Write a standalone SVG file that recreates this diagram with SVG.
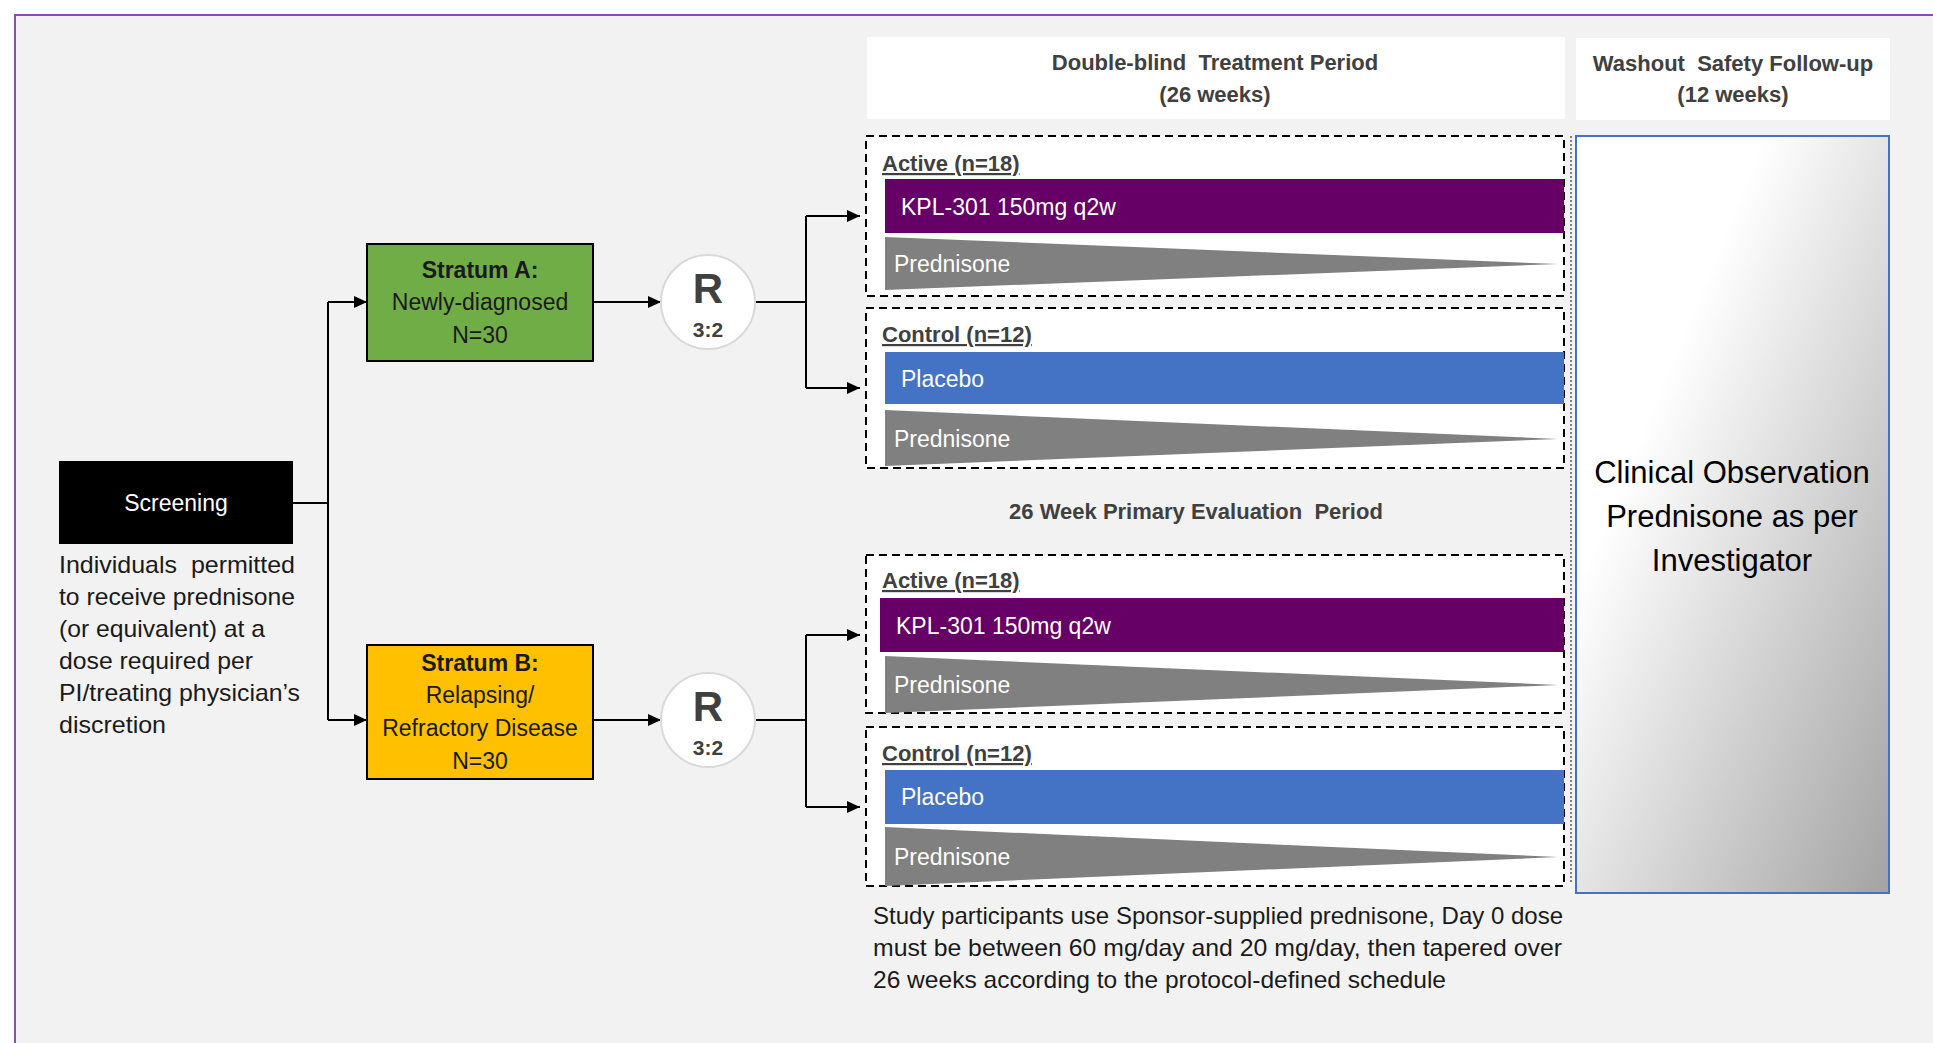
<svg xmlns="http://www.w3.org/2000/svg" width="1933" height="1043" viewBox="0 0 1933 1043">
<defs>
<style>
text{font-family:"Liberation Sans",Arial,sans-serif}
.hdr{font-size:22px;font-weight:bold;fill:#404040;text-anchor:middle}
.lbl{font-size:22px;font-weight:bold;fill:#404040;text-decoration:underline}
.bar{font-size:23px;fill:#ffffff}
.strat{font-size:23px;fill:#1a1a1a;text-anchor:middle}
.note{font-size:24px;fill:#1a1a1a}
.dash{fill:#ffffff;stroke:#000000;stroke-width:2;stroke-dasharray:8 5}
.conn{stroke:#000000;stroke-width:2;fill:none}
.arr{marker-end:url(#ah)}
.tri{fill:#808080}
.kpl{fill:#660066}
.plc{fill:#4472C4}
</style>
<marker id="ah" markerUnits="userSpaceOnUse" markerWidth="13" markerHeight="12" refX="13" refY="6" orient="auto">
<path d="M0,0 L13,6 L0,12 z" fill="#000000"/>
</marker>
<linearGradient id="obs" x1="0" y1="0" x2="1" y2="1">
<stop offset="0" stop-color="#ffffff"/>
<stop offset="0.3" stop-color="#ffffff"/>
<stop offset="1" stop-color="#a3a3a3"/>
</linearGradient>
</defs>
<rect x="0" y="0" width="1933" height="1043" fill="#ffffff"/>
<rect x="15" y="15" width="1940" height="1040" fill="#f2f2f2" stroke="#8b4cb0" stroke-width="2"/>

<g id="connectors">
<path class="conn" d="M293,503 H328"/>
<path class="conn" d="M328,302 V720"/>
<path class="conn arr" d="M328,302 H367"/>
<path class="conn arr" d="M328,720 H367"/>
<path class="conn arr" d="M593,302 H661"/>
<path class="conn arr" d="M593,720 H661"/>
<path class="conn" d="M755,302 H806"/>
<path class="conn" d="M806,216 V388"/>
<path class="conn arr" d="M806,216 H860"/>
<path class="conn arr" d="M806,388 H860"/>
<path class="conn" d="M755,720 H806"/>
<path class="conn" d="M806,635 V807"/>
<path class="conn arr" d="M806,635 H860"/>
<path class="conn arr" d="M806,807 H860"/>
</g>

<g id="screening">
<rect x="59" y="461" width="234" height="83" fill="#000000"/>
<text x="176" y="511" font-size="23" fill="#ffffff" text-anchor="middle">Screening</text>
</g>
<g id="screening-note">
<text class="note" x="59" y="573" xml:space="preserve" textLength="236" lengthAdjust="spacingAndGlyphs">Individuals  permitted</text>
<text class="note" x="59" y="605" textLength="236" lengthAdjust="spacingAndGlyphs">to receive prednisone</text>
<text class="note" x="59" y="637" textLength="206" lengthAdjust="spacingAndGlyphs">(or equivalent) at a</text>
<text class="note" x="59" y="669" textLength="194" lengthAdjust="spacingAndGlyphs">dose required per</text>
<text class="note" x="59" y="701" textLength="241" lengthAdjust="spacingAndGlyphs">PI/treating physician’s</text>
<text class="note" x="59" y="733" textLength="107" lengthAdjust="spacingAndGlyphs">discretion</text>
</g>

<g id="stratum-a">
<rect x="367" y="244" width="226" height="117" fill="#70ad47" stroke="#000000" stroke-width="2"/>
<text class="strat" x="480" y="278" font-weight="bold">Stratum A:</text>
<text class="strat" x="480" y="310">Newly-diagnosed</text>
<text class="strat" x="480" y="343">N=30</text>
</g>
<g id="stratum-b">
<rect x="367" y="645" width="226" height="134" fill="#ffc000" stroke="#000000" stroke-width="2"/>
<text class="strat" x="480" y="671" font-weight="bold">Stratum B:</text>
<text class="strat" x="480" y="703">Relapsing/</text>
<text class="strat" x="480" y="736">Refractory Disease</text>
<text class="strat" x="480" y="769">N=30</text>
</g>

<g id="rand-a">
<circle cx="708" cy="302" r="47" fill="#ffffff" stroke="#d9d9d9" stroke-width="2"/>
<text x="708" y="303" font-size="42" font-weight="bold" fill="#404040" text-anchor="middle">R</text>
<text x="708" y="337" font-size="21" font-weight="bold" fill="#404040" text-anchor="middle">3:2</text>
</g>
<g id="rand-b">
<circle cx="708" cy="720" r="47" fill="#ffffff" stroke="#d9d9d9" stroke-width="2"/>
<text x="708" y="721" font-size="42" font-weight="bold" fill="#404040" text-anchor="middle">R</text>
<text x="708" y="755" font-size="21" font-weight="bold" fill="#404040" text-anchor="middle">3:2</text>
</g>

<g id="header-treatment">
<rect x="867" y="37" width="698" height="82" fill="#ffffff"/>
<text class="hdr" x="1215" y="70" xml:space="preserve">Double-blind  Treatment Period</text>
<text class="hdr" x="1215" y="102">(26 weeks)</text>
</g>
<g id="header-washout">
<rect x="1576" y="38" width="314" height="82" fill="#ffffff"/>
<text class="hdr" x="1733" y="71" xml:space="preserve">Washout  Safety Follow-up</text>
<text class="hdr" x="1733" y="102">(12 weeks)</text>
</g>

<g id="arm-a-active">
<rect class="dash" x="866" y="136" width="698" height="160"/>
<text class="lbl" x="882" y="171">Active (n=18)</text>
<rect class="kpl" x="885" y="179" width="679" height="54"/>
<text class="bar" x="901" y="215">KPL-301 150mg q2w</text>
<polygon class="tri" points="885,237 1558,264 885,290"/>
<text class="bar" x="894" y="272">Prednisone</text>
</g>
<g id="arm-a-control">
<rect class="dash" x="866" y="308" width="698" height="160"/>
<text class="lbl" x="882" y="342">Control (n=12)</text>
<rect class="plc" x="885" y="352" width="679" height="52"/>
<text class="bar" x="901" y="387">Placebo</text>
<polygon class="tri" points="885,410 1558,439 885,466"/>
<text class="bar" x="894" y="447">Prednisone</text>
</g>

<text id="eval-label" class="hdr" x="1196" y="519" xml:space="preserve">26 Week Primary Evaluation  Period</text>

<g id="arm-b-active">
<rect class="dash" x="866" y="555" width="698" height="158"/>
<text class="lbl" x="882" y="588">Active (n=18)</text>
<rect class="kpl" x="880" y="598" width="684" height="54"/>
<text class="bar" x="896" y="634">KPL-301 150mg q2w</text>
<polygon class="tri" points="885,656 1558,685 885,713"/>
<text class="bar" x="894" y="693">Prednisone</text>
</g>
<g id="arm-b-control">
<rect class="dash" x="866" y="727" width="698" height="159"/>
<text class="lbl" x="882" y="761">Control (n=12)</text>
<rect class="plc" x="885" y="770" width="679" height="54"/>
<text class="bar" x="901" y="805">Placebo</text>
<polygon class="tri" points="885,827 1558,857 885,886"/>
<text class="bar" x="894" y="865">Prednisone</text>
</g>

<g id="prednisone-note">
<text class="note" x="873" y="924" textLength="690" lengthAdjust="spacingAndGlyphs">Study participants use Sponsor-supplied prednisone, Day 0 dose</text>
<text class="note" x="873" y="956" textLength="689" lengthAdjust="spacingAndGlyphs">must be between 60 mg/day and 20 mg/day, then tapered over</text>
<text class="note" x="873" y="988" textLength="573" lengthAdjust="spacingAndGlyphs">26 weeks according to the protocol-defined schedule</text>
</g>

<line x1="1571" y1="136" x2="1571" y2="884" stroke="#808080" stroke-width="2" stroke-dasharray="2 2"/>

<g id="observation">
<rect x="1576" y="136" width="313" height="757" fill="url(#obs)" stroke="#4472c4" stroke-width="2"/>
<text x="1732" y="483" font-size="31" fill="#000000" text-anchor="middle">Clinical Observation</text>
<text x="1732" y="527" font-size="31" fill="#000000" text-anchor="middle">Prednisone as per</text>
<text x="1732" y="571" font-size="31" fill="#000000" text-anchor="middle">Investigator</text>
</g>
</svg>
